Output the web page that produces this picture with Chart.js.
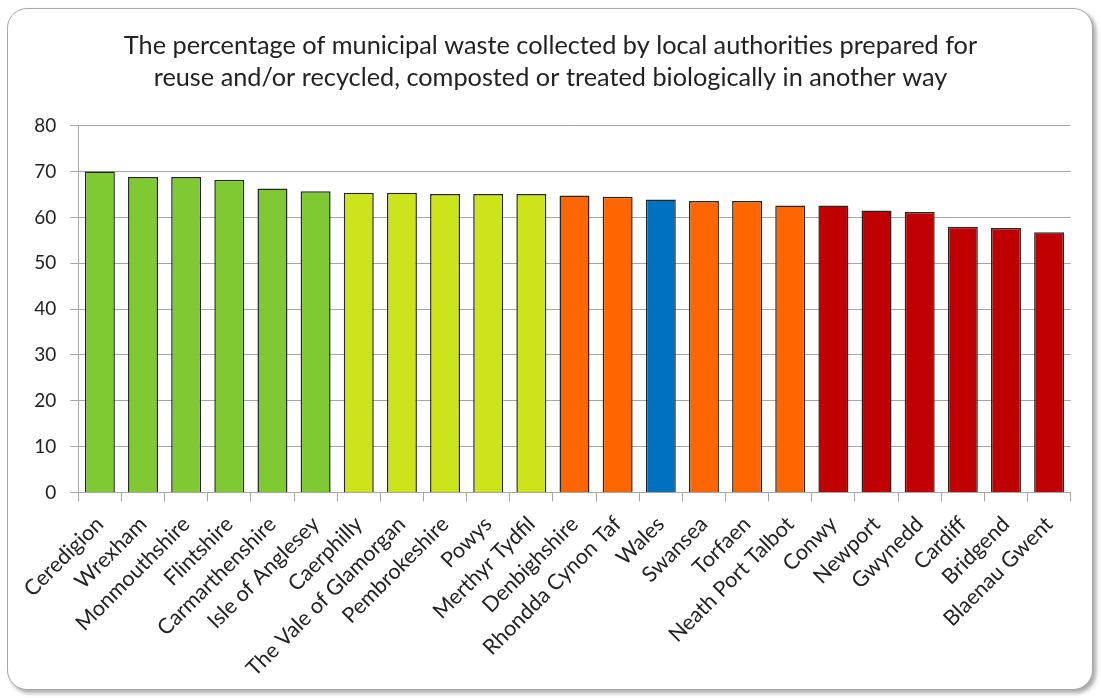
<!DOCTYPE html>
<html>
<head>
<meta charset="utf-8">
<script src="https://cdn.jsdelivr.net/npm/chart.js@4"></script>
<style>
  html, body { margin: 0; padding: 0; background: #fff; }
  #wrap { position: relative; width: 1101px; height: 698px; }
  #frame {
    position: absolute; left: 7px; top: 8px; width: 1084px; height: 680px;
    border: 1px solid #a8a8a8; border-radius: 20px;
    box-shadow: 3px 3px 4px rgba(0,0,0,0.35);
    background: #fff;
  }
  canvas { position: absolute; left: 0; top: 0; }
</style>
</head>
<body>
<div id="wrap">
  <div id="frame"></div>
  <canvas id="chart" width="1101" height="698"></canvas>
</div>
<script>
const titleLines = [
  "The percentage of municipal waste collected by local authorities prepared for",
  "reuse and/or recycled, composted or treated biologically in another way"
];

const areas = ["Ceredigion", "Wrexham", "Monmouthshire", "Flintshire", "Carmarthenshire",
  "Isle of Anglesey", "Caerphilly", "The Vale of Glamorgan", "Pembrokeshire", "Powys",
  "Merthyr Tydfil", "Denbighshire", "Rhondda Cynon Taf", "Wales", "Swansea", "Torfaen",
  "Neath Port Talbot", "Conwy", "Newport", "Gwynedd", "Cardiff", "Bridgend", "Blaenau Gwent"];

const percentages = [70.0, 68.8, 68.8, 68.2, 66.3, 65.7, 65.4, 65.4, 65.1, 65.1,
  65.1, 64.8, 64.5, 63.9, 63.6, 63.6, 62.6, 62.6, 61.5, 61.2, 58.0, 57.7, 56.8];

// colour group for each bar
const groups = ["top", "top", "top", "top", "top", "top", "upper", "upper", "upper", "upper",
  "upper", "lower", "lower", "wales", "lower", "lower", "lower", "bottom", "bottom", "bottom",
  "bottom", "bottom", "bottom"];

const yTicks = [0, 10, 20, 30, 40, 50, 60, 70, 80];

const groupColours = {
  top: "#7fc933",
  upper: "#cbe51a",
  lower: "#ff6600",
  wales: "#0070c0",
  bottom: "#c00000"
};

const font = "Lato, 'Open Sans', sans-serif";

new Chart(document.getElementById("chart"), {
  type: "bar",
  data: {
    labels: areas,
    datasets: [{
      data: percentages,
      backgroundColor: groups.map(g => groupColours[g]),
      borderColor: "#262626",
      borderWidth: 1.5,
      barPercentage: 0.695,
      categoryPercentage: 1
    }]
  },
  options: {
    responsive: false,
    animation: false,
    // equal side padding keeps the title centred on the page
    layout: { padding: { left: 30.3, right: 30.3, top: 0, bottom: 0 } },
    plugins: {
      legend: { display: false },
      tooltip: { enabled: false },
      title: {
        display: true,
        text: titleLines,
        color: "#222",
        font: { family: font, size: 25.3, weight: "normal", lineHeight: 1.3 },
        padding: { top: 29, bottom: 31 }
      }
    },
    scales: {
      x: {
        grid: { drawOnChartArea: false, drawTicks: true, tickLength: 9, color: "#a6a6a6" },
        border: { color: "#a6a6a6" },
        ticks: {
          minRotation: 45, maxRotation: 45, autoSkip: false,
          color: "#222", padding: 10,
          font: { family: font, size: 21.5 }
        },
        afterFit: s => { s.height = 205.5; }
      },
      y: {
        min: 0, max: 80,
        afterBuildTicks: s => { s.ticks = yTicks.map(v => ({ value: v })); },
        grid: { color: "#a6a6a6", tickLength: 8 },
        border: { color: "#a6a6a6" },
        ticks: { color: "#222", padding: 14, font: { family: font, size: 19 } },
        afterFit: s => { s.width = 48; }
      }
    }
  }
});
</script>
</body>
</html>
